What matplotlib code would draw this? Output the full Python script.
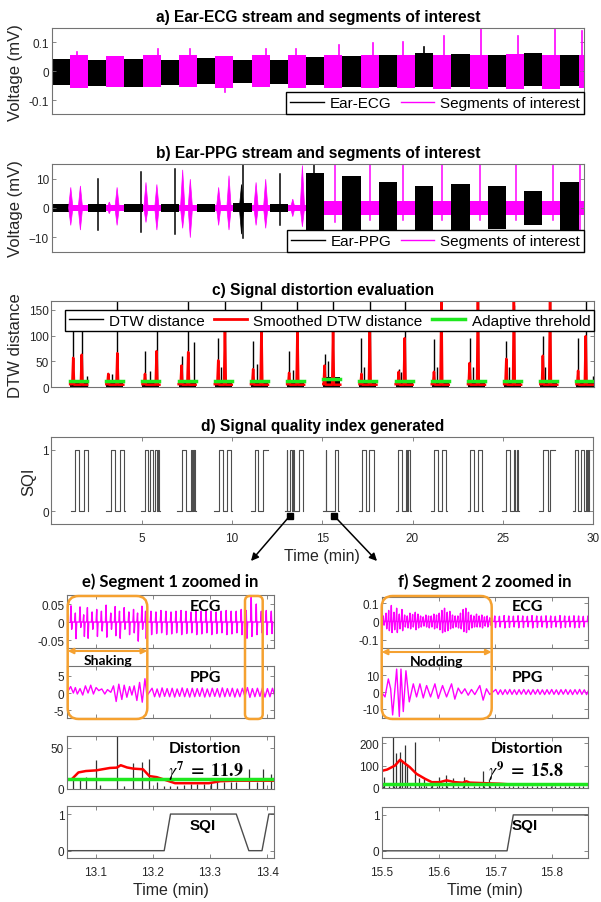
import matplotlib.pyplot as plt
from matplotlib.lines import Line2D
from matplotlib.patches import FancyBboxPatch

plt.rcParams['font.family'] = ['Liberation Sans', 'DejaVu Sans']
plt.rcParams['mathtext.fontset'] = 'stix'

MAG = '#ff00ff'
GREEN = '#1ee81e'
ORANGE = '#f5a130'
AXC = '0.45'
TXT = '0.15'

# ---------------- a) Ear-ECG, one block per minute (odd minutes = segments of interest)
ecg_hi = [0.043, 0.057, 0.040, 0.054, 0.043, 0.057, 0.040, 0.057, 0.046, 0.054,
          0.040, 0.057, 0.040, 0.057, 0.049, 0.057, 0.052, 0.057, 0.057, 0.057,
          0.063, 0.057, 0.060, 0.057, 0.057, 0.060, 0.061, 0.057, 0.057, 0.057]
ecg_lo = [-0.049, -0.057, -0.052, -0.054, -0.054, -0.054, -0.049, -0.054, -0.046, -0.057,
          -0.040, -0.054, -0.046, -0.057, -0.049, -0.057, -0.054, -0.057, -0.054, -0.057,
          -0.054, -0.060, -0.054, -0.060, -0.054, -0.060, -0.052, -0.060, -0.052, -0.057]
ecg_spk_t = [1.37, 5.83, 7.59, 9.55, 11.78, 13.44, 15.82, 17.69, 19.32, 20.49,
             21.6, 23.64, 25.66, 27.72, 29.2, 29.42]
ecg_spk_v = [0.065, 0.075, 0.077, -0.072, 0.075, 0.075, 0.092, 0.098, 0.1, 0.083,
             0.123, 0.146, 0.123, 0.146, 0.138, -0.103]

# ---------------- b) Ear-PPG
ppg_hi = [1.3, 1.0, 1.3, 1.0, 1.3, 1.0, 1.3, 1.0, 1.3, 1.0, 1.5, 1.0, 1.3, 1.0, 12.0,
          2.5, 10.9, 2.5, 8.7, 2.5, 7.5, 2.5, 8.1, 2.5, 7.5, 2.5, 5.8, 2.5, 8.7, 2.5]
ppg_lo = [-1.5, -1.0, -1.5, -1.0, -1.5, -1.0, -1.5, -1.0, -1.5, -1.0, -1.5, -1.0, -1.5, -1.0, -11.5,
          -2.5, -11.0, -2.5, -9.3, -2.5, -8.2, -2.5, -8.8, -2.5, -7.1, -2.5, -6.0, -2.5, -7.6, -2.5]
ppg_burst_t = [1.05, 1.58, 3.17, 3.60, 5.19, 5.79, 7.21, 7.63, 9.19, 9.76, 10.45, 11.25, 11.78, 13.27, 13.80]
ppg_burst_hi = [7, 7.5, 2, 7, 8.7, 8, 13, 9.8, 7, 11, 8, 8.7, 9.8, 3, 14.5]
ppg_burst_lo = [-6, -7.6, -2, -6, -5, -7.6, -7, -10.2, -6, -7.6, -9, -6, -7, -3, -6.5]
ppg_spk_t = [2.53, 4.92, 6.78, 10.55, 12.56, 14.43, 15.6, 17.5, 19.32, 21.5, 23.56, 25.58, 27.6, 29.08]
ppg_spk_hi = [10, 12.2, 13.4, 15, 11.5, 15, 15, 15, 15, 15, 15, 15, 15, 15]
ppg_spk_lo = [-7.6, -8.4, -9.1, -10.4, -6, -15, -5, -4, -4, -4, -4, -4, -4, -15]

# ---------------- c) DTW distance clusters (one per segment of interest)
c_start = [1, 3, 5, 7, 9, 11, 13, 15, 17, 19, 21, 23, 25, 27, 29]
c_p1 = [0.20, 0.14, 0.17, 0.19, 0.22, 0.15, 0.14, 0.10, 0.14, 0.20, 0.15, 0.12, 0.15, 0.17, 0.12]
c_p2 = [0.67, 0.64, 0.81, 0.56, 0.59, 0.61, 0.60, 0.57, 0.60, 0.53, 0.56, 0.58, 0.57, 0.57, 0.54]
c_red1 = [57, 26, 26, 42, 52, 35, 28, 42, 26, 30, 30, 47, 55, 61, 32]
c_red2 = [63, 66, 70, 68, 110, 120, 115, 110, 120, 95, 175, 175, 175, 175, 99]
c_blk1 = [130, 28, 71, 61, 96, 90, 70, 64, 96, 35, 93, 96, 90, 99, 96]
c_blk2 = [115, 175, 120, 175, 175, 175, 175, 175, 175, 175, 175, 175, 160, 175, 175]
c_ext = [0.95, 0.35, 0.45, 0.9, 0.35, 0.35, 0.35, 0.3, 0.3, 0.35, 0.3, 0.3, 0.3, 0.3, 0.95]
c_ext_h = [22, 26, 32, 88, 40, 45, 33, 50, 40, 30, 40, 40, 40, 40, 22]
c_base = [10, 8, 8, 10, 8, 8, 9, 20, 8, 10, 8, 8, 8, 8, 10]
c_thr = [11.6, 12, 12, 12, 12, 12, 12, 16, 12, 12, 12, 12, 12, 12, 12]

# ---------------- d) SQI: [start, toggle times..., end], starting at 0
sqi_groups = [
    [1.06, 1.30, 1.52, 1.80, 2.00, 2.03],
    [3.04, 3.28, 3.50, 3.77, 3.99, 4.05],
    [4.97, 5.20, 5.37, 5.45, 5.64, 5.74, 5.82, 5.90, 5.97, 6.01],
    [6.98, 7.25, 7.44, 7.71, 7.77, 7.82, 7.88, 7.92, 7.95, 7.99],
    [8.99, 9.27, 9.49, 9.73, 9.97, 10.0],
    [11.08, 11.25, 11.46, 11.70, 11.98],
    [12.96, 13.02, 13.05, 13.22, 13.35, 13.39, 13.45, 13.72, 13.93, 13.96],
    [15.04, 15.19, 15.21, 15.72, 15.90, 15.92],
    [17.05, 17.20, 17.42, 17.60, 17.84, 17.88],
    [19.10, 19.21, 19.40, 19.62, 19.71, 19.76, 19.86, 19.91],
    [21.05, 21.18, 21.40, 21.63, 21.85, 21.90],
    [23.06, 23.19, 23.41, 23.65, 23.87, 23.92],
    [24.95, 25.18, 25.39, 25.60, 25.70, 25.77, 25.85, 25.90],
    [27.00, 27.24, 27.50, 27.64, 27.92],
    [28.90, 29.00, 29.18, 29.32, 29.49, 29.60, 29.69, 29.73, 29.77, 29.80],
]
sqi_mark_t = [13.22, 15.64]

# ---------------- e) segment 1 (13.05 - 13.41 min)
ecg_e_t = [13.057, 13.0646, 13.0728, 13.0792, 13.0857, 13.0939, 13.102, 13.1102, 13.1184,
           13.1266, 13.1342, 13.1418, 13.15, 13.1582, 13.1664, 13.1734, 13.181, 13.1874,
           13.1968, 13.2056, 13.2143, 13.2231, 13.2319, 13.2406, 13.2494, 13.2582, 13.267,
           13.2757, 13.2845, 13.2933, 13.302, 13.3108, 13.3196, 13.3284, 13.3371, 13.3459,
           13.3547, 13.3635, 13.3722, 13.381, 13.3898, 13.3985, 13.4073]
ecg_e_up = [.045, .025, .042, .02, .04, .028, .035, .03, .047, .025, .043, .03, .04, .028, .035,
            .025, .044, .03, .03, .028, .032, .03, .028, .03, .032, .03, .028, .03, .03, .032,
            .03, .028, .03, .032, .03, .03, .035, .032, .069, .05, .03, .032, .03]
ecg_e_dn = [-.02, -.046, -.015, -.04, -.045, -.02, -.04, -.025, -.042, -.02, -.038, -.045, -.02,
            -.035, -.03, -.053, -.02, -.046, -.035, -.032, -.03, -.035, -.033, -.03, -.035, -.032,
            -.03, -.035, -.033, -.03, -.035, -.032, -.03, -.035, -.033, -.03, -.035, -.045, -.04,
            -.035, -.03, -.035, -.032]
ppg_e_shake_t = [13.0523, 13.0564, 13.0611, 13.0646, 13.0681, 13.0728, 13.0775, 13.0822, 13.0868,
                 13.0915, 13.0962, 13.1009, 13.1056, 13.1108, 13.1161, 13.1208, 13.1266, 13.1313,
                 13.136, 13.1406, 13.1459, 13.15, 13.1547, 13.1594, 13.1635, 13.1675, 13.1722,
                 13.1769, 13.1816, 13.1863, 13.1898]
ppg_e_shake_v = [0.7, 1.9, 0, 1.6, -0.3, 1.3, -0.6, 2.1, 0, 2.3, -0.3, 1.6, 0.7, 1.2, -0.3, 1.0,
                 0.2, 2.1, -2.5, 2.6, -1.9, 2.3, -1.25, 1.9, -0.6, 2.1, -2.2, 3.1, -2.7, 4.2, -0.8]
ppg_e_pk = [1.4, 1.2, 1.5, 1.3, 1.4, 1.2, 1.5, 1.3, 1.4, 1.3, 1.5, 1.2, 1.4, 1.3, 1.5, 1.3, 1.4,
            1.2, 1.4, 1.6, 1.3, 1.4, 1.5, 1.3, 1.4]
ppg_e_tr = [-1.1, -1.2, -1.0, -1.1, -1.2, -1.0, -1.1, -1.2, -1.1, -1.0, -1.2, -1.1, -1.0, -1.2,
            -1.1, -1.0, -1.2, -1.1, -1.0, -1.3, -1.1, -1.0, -1.2, -1.1, -1.0]
dist_e_t = [13.060, 13.072, 13.083, 13.101, 13.107, 13.137, 13.150, 13.166, 13.181, 13.193,
            13.207, 13.220, 13.231, 13.242, 13.254, 13.266, 13.277, 13.289, 13.301, 13.313,
            13.324, 13.336, 13.346, 13.368, 13.382, 13.393, 13.406]
dist_e_h = [13, 12, 14, 35, 5, 70, 4, 32, 33, 36, 8, 4, 4, 4, 5, 6, 6, 6, 8, 8, 8, 8, 8, 24, 8, 24, 18]
red_e_t = [13.060, 13.070, 13.083, 13.101, 13.125, 13.137, 13.144, 13.155, 13.166, 13.183,
           13.194, 13.207, 13.225, 13.239, 13.260, 13.283, 13.298, 13.318, 13.342, 13.414]
red_e_v = [13, 20, 21.7, 22.5, 25.4, 25.8, 28.7, 26, 24.6, 23.8, 15.6, 14.3, 10.2, 7, 7, 7, 7,
           9.4, 10, 10]
thr_e = 11.9
sqi_e_t = [13.05, 13.22, 13.231, 13.346, 13.368, 13.391, 13.403, 13.415]
sqi_e_v = [0, 0, 1, 1, 0, 0, 1, 1]

# ---------------- f) segment 2 (15.5 - 15.86 min)
ecg_f_t = [15.5024, 15.5071, 15.5118, 15.5165, 15.5212, 15.5259, 15.5306, 15.5353, 15.54,
           15.5447, 15.5494, 15.5541, 15.5588, 15.5635, 15.5682, 15.5729, 15.5776, 15.5823,
           15.587, 15.5917, 15.5964, 15.6011, 15.6058, 15.6105, 15.6152, 15.6199, 15.6246,
           15.6293, 15.634, 15.6387, 15.6434, 15.6481, 15.6528, 15.6576, 15.6623, 15.667,
           15.6717, 15.6764, 15.6811, 15.6858, 15.6905,
           15.6993, 15.7075, 15.7158, 15.724, 15.7322, 15.7404, 15.7487, 15.7569, 15.7651,
           15.7734, 15.7816, 15.7898, 15.7981, 15.8063, 15.8145, 15.8228, 15.831, 15.8392,
           15.8474, 15.8557, 15.8639]
ecg_f_up = [0.03, 0.045, 0.06, 0.087, 0.05, 0.072, 0.04, 0.065, 0.035, 0.03, 0.045, 0.038, 0.05,
            0.04, 0.03, 0.025, 0.035, 0.03, 0.03, 0.04, 0.035, 0.045, 0.06, 0.072, 0.05, 0.055,
            0.035, 0.03, 0.03, 0.045, 0.065, 0.072, 0.05, 0.035, 0.03, 0.04, 0.03, 0.035, 0.025,
            0.03, 0.02,
            0.03, 0.028, 0.032, 0.03, 0.029, 0.031, 0.03, 0.028, 0.032, 0.03, 0.029, 0.031, 0.03,
            0.028, 0.032, 0.03, 0.029, 0.031, 0.03, 0.028, 0.03]
ecg_f_dn = [-0.02, -0.04, -0.05, -0.06, -0.045, -0.06, -0.04, -0.05, -0.03, -0.035, -0.04, -0.03,
            -0.045, -0.035, -0.03, -0.025, -0.03, -0.035, -0.03, -0.04, -0.035, -0.045, -0.061,
            -0.055, -0.05, -0.04, -0.035, -0.03, -0.035, -0.04, -0.055, -0.06, -0.045, -0.035,
            -0.03, -0.03, -0.03, -0.035, -0.025, -0.03, -0.02,
            -0.033, -0.03, -0.035, -0.032, -0.03, -0.034, -0.033, -0.03, -0.035, -0.032, -0.03,
            -0.034, -0.033, -0.03, -0.035, -0.032, -0.03, -0.034, -0.033, -0.03, -0.032]
ppg_f_nod_t = [15.5012, 15.5053, 15.5112, 15.5153, 15.5188, 15.5259, 15.5306, 15.5335, 15.5376,
               15.5423, 15.5482, 15.5553, 15.5611, 15.567, 15.5729, 15.5788, 15.5858, 15.5935,
               15.5994, 15.607, 15.6141, 15.6229, 15.6287, 15.6346, 15.6405, 15.6464, 15.6523,
               15.6581, 15.664, 15.6728, 15.6787, 15.6846, 15.6905]
ppg_f_nod_v = [-1.0, -2.9, 7.7, 1.9, -13.5, 13.5, -14.4, 13.5, -11.5, 12.5, -5.8, 4.8, -2.9, 4.8,
               -3.5, 3.8, -2.9, 4.8, -3.8, 3.8, -2.9, 4.8, -4.2, 2.3, -1.0, 1.9, -1.9, 1.5, -1.5,
               3.8, -4.8, 1.9, -1.5]
ppg_f_pk = [1.5, 1.3, 1.4, 1.5, 1.3, 1.4, 1.5, 1.3, 1.4, 1.5, 1.3, 1.4, 1.5, 1.3, 1.4, 1.5, 1.3,
            1.4, 1.5, 1.3, 1.4]
ppg_f_tr = [-1.4, -1.5, -1.3, -1.4, -1.5, -1.3, -1.4, -1.5, -1.3, -1.4, -1.5, -1.3, -1.4, -1.5,
            -1.3, -1.4, -1.5, -1.3, -1.4, -1.5, -1.3]
dist_f_t = [15.504, 15.519, 15.525, 15.532, 15.535, 15.541, 15.545, 15.558, 15.566, 15.574,
            15.588, 15.601, 15.613, 15.626, 15.645, 15.678, 15.689]
dist_f_h = [51, 230, 156, 162, 122, 191, 107, 206, 44, 41, 20, 51, 59, 44, 51, 75, 38]
dist_f_base = 9
red_f_t = [15.496, 15.509, 15.523, 15.532, 15.539, 15.549, 15.561, 15.576, 15.588, 15.602,
           15.614, 15.629, 15.643, 15.649, 15.655, 15.676, 15.708, 15.726]
red_f_v = [74, 82, 100, 126, 112, 93, 63, 41, 26, 26, 34, 26, 23.5, 30, 24, 22, 19, 16]
thr_f = 15.8
sqi_f_t = [15.5, 15.721, 15.732, 15.87]
sqi_f_v = [0, 0, 1, 1]

# ---------------------------------------------------------------- layout helpers
W, H = 601.0, 903.0
fig = plt.figure(figsize=(6.01, 9.03), dpi=100)


def px_axes(l, t, r, b):
    return fig.add_axes([l / W, 1 - b / H, (r - l) / W, (b - t) / H])


def style(ax, size=8.5):
    for s in ax.spines.values():
        s.set_color(AXC)
        s.set_linewidth(0.8)
    ax.tick_params(direction='in', length=3, width=0.6, color=AXC, labelsize=size,
                   labelcolor=TXT, top=True, right=True, pad=2)
    ax.tick_params(axis='x', pad=6)


def col(t):
    return MAG if int(t) % 2 else 'k'


def beat_trace(ts, ups, dns, w):
    x, y = [], []
    for t, u, d in zip(ts, ups, dns):
        x += [t - w, t, t + w, t + 2 * w]
        y += [0, u, d, 0]
    return x, y


def ppg_trace(ts, pks, trs, lag):
    x, y = [], []
    for t, p, q in zip(ts, pks, trs):
        x += [t + lag, t + 3.2 * lag]
        y += [p, q]
    return x, y


title_kw = dict(fontsize=11.2, fontweight='bold', color='k', pad=5)
leg_kw = dict(fontsize=11, frameon=True, fancybox=False, edgecolor='k', framealpha=1,
              borderaxespad=0, handlelength=2.2, columnspacing=0.6, handletextpad=0.4,
              borderpad=0.25)

# ---------------------------------------------------------------- a)
ax = px_axes(51.7, 29.3, 584, 115)
for m in range(len(ecg_hi)):
    ax.fill_between([m, m + 1], ecg_lo[m], ecg_hi[m], color=col(m), lw=0)
for t, v in zip(ecg_spk_t, ecg_spk_v):
    ax.plot([t, t], [0, v], color=col(t), lw=1.2)
ax.set_xlim(0, 29.3)
ax.set_ylim(-0.148, 0.148)
ax.set_xticks([])
ax.set_yticks([-0.1, 0, 0.1])
ax.set_yticklabels(['-0.1', '0', '0.1'])
style(ax)
ax.set_ylabel('Voltage (mV)', fontsize=12, color=TXT)
ax.set_title('a) Ear-ECG stream and segments of interest', **title_kw)
ax.legend([Line2D([], [], color='k', lw=1), Line2D([], [], color=MAG, lw=1)],
          ['Ear-ECG', 'Segments of interest'], ncol=2, loc='lower right', **leg_kw)

# ---------------------------------------------------------------- b)
ax = px_axes(51.7, 165, 584, 252.7)
for m in range(len(ppg_hi)):
    ax.fill_between([m, m + 1], ppg_lo[m], ppg_hi[m], color=col(m), lw=0)
for t, hi, lo in zip(ppg_burst_t, ppg_burst_hi, ppg_burst_lo):
    ax.fill([t - 0.12, t, t + 0.12, t], [0, hi, 0, lo], color=col(t), lw=0.5)
for t, hi, lo in zip(ppg_spk_t, ppg_spk_hi, ppg_spk_lo):
    ax.plot([t, t], [lo, hi], color=col(t), lw=1.1)
ax.set_xlim(0, 29.3)
ax.set_ylim(-15, 15)
ax.set_xticks([])
ax.set_yticks([-10, 0, 10])
style(ax)
ax.set_ylabel('Voltage (mV)', fontsize=12, color=TXT)
ax.set_title('b) Ear-PPG stream and segments of interest', **title_kw)
ax.legend([Line2D([], [], color='k', lw=1), Line2D([], [], color=MAG, lw=1)],
          ['Ear-PPG', 'Segments of interest'], ncol=2, loc='lower right', **leg_kw)

# ---------------------------------------------------------------- c)
ax = px_axes(51.5, 302, 594, 388.3)
for k, s in enumerate(c_start):
    ax.fill_between([s + 0.03, s + 0.97], 0, c_base[k], color='k', lw=0)
    ax.vlines([s + c_p1[k], s + c_p2[k], s + c_ext[k]], 0,
              [c_blk1[k], c_blk2[k], c_ext_h[k]], color='k', lw=1)
    a1, a2 = s + c_p1[k], s + c_p2[k]
    ax.plot([s + 0.03, a1 - 0.05, a1, a1 + 0.05, a2 - 0.05, a2, a2 + 0.05, s + 0.97],
            [6, 6, c_red1[k], 5, 5, c_red2[k], 5, 5], color='#ff0000', lw=1.8)
    ax.plot([s + 0.03, s + 0.97], [c_thr[k], c_thr[k]], color=GREEN, lw=2.5)
ax.set_xlim(0, 30)
ax.set_ylim(0, 167)
ax.set_xticks([])
ax.set_yticks([0, 50, 100, 150])
style(ax)
ax.set_ylabel('DTW distance', fontsize=12, color=TXT)
ax.set_title('c) Signal distortion evaluation', **title_kw)
lg = ax.legend([Line2D([], [], color='k', lw=1), Line2D([], [], color='#ff0000', lw=2),
                Line2D([], [], color=GREEN, lw=2.5)],
               ['DTW distance', 'Smoothed DTW distance', 'Adaptive threhold'],
               ncol=3, loc='upper right', bbox_to_anchor=(1.0, 1 - 8.7 / 86.3), **leg_kw)
lg.set_zorder(5)

# ---------------------------------------------------------------- d)
axd = px_axes(51.5, 438, 593, 524.5)
for g in sqi_groups:
    xs, ys, lvl = [g[0]], [0], 0
    for t in g[1:-1]:
        xs += [t, t]
        ys += [lvl, 1 - lvl]
        lvl = 1 - lvl
    xs.append(g[-1])
    ys.append(lvl)
    axd.plot(xs, ys, color='0.3', lw=0.8)
axd.plot(sqi_mark_t, [-0.07, -0.07], 's', color='k', ms=4.5, clip_on=False, zorder=5)
axd.set_xlim(0, 30)
axd.set_ylim(-0.2, 1.21)
axd.set_xticks([5, 10, 15, 20, 25, 30])
axd.set_yticks([0, 1])
style(axd)
axd.set_ylabel('SQI', fontsize=12, color=TXT)
axd.set_xlabel('Time (min)', fontsize=11.5, color=TXT, labelpad=3)
axd.set_title('d) Signal quality index generated', **title_kw)
for t, tgt in zip(sqi_mark_t, [(251, H - 562), (377, H - 562)]):
    axd.annotate('', xy=tgt, xycoords='figure pixels', xytext=(t, -0.07), textcoords='data',
                 arrowprops=dict(arrowstyle='-|>', color='k', lw=1.1, mutation_scale=11,
                                 shrinkA=0, shrinkB=0))

# ---------------------------------------------------------------- e) / f)
def zax(l, t, r, b, xlim, ylim, yt, ytl, xt, xlab=False):
    a = px_axes(l, t, r, b)
    a.set_xlim(xlim)
    a.set_ylim(ylim)
    a.set_xticks(xt)
    a.set_yticks(yt)
    a.set_yticklabels(ytl)
    style(a, 8.5)
    if xlab:
        a.set_xlabel('Time (min)', fontsize=11.5, color=TXT, labelpad=3)
    else:
        a.tick_params(labelbottom=False)
    return a


xe, xf = (13.05, 13.412), (15.5, 15.864)
te, tf = [13.1, 13.2, 13.3, 13.4], [15.5, 15.6, 15.7, 15.8]

a = zax(67, 596, 274, 649, xe, (-0.072, 0.075), [-0.05, 0, 0.05], ['-0.05', '0', '0.05'], te)
a.plot(*beat_trace(ecg_e_t, ecg_e_up, ecg_e_dn, 0.0012), color=MAG, lw=1)
a = zax(67, 667, 274, 719, xe, (-7.35, 7.94), [-5, 0, 5], ['-5', '0', '5'], te)
px, py = ppg_trace(ecg_e_t[18:], ppg_e_pk, ppg_e_tr, 0.002)
a.plot(ppg_e_shake_t + px, ppg_e_shake_v + py, color=MAG, lw=1)
a = zax(67, 737, 274, 790, xe, (0, 64), [0, 50], ['0', '50'], te)
a.vlines(dist_e_t, 0, dist_e_h, color='0.2', lw=0.9)
a.plot(red_e_t, red_e_v, color='#ff0000', lw=1.8)
a.axhline(thr_e, color=GREEN, lw=2.5)
a = zax(67, 807, 274, 859, xe, (-0.2, 1.22), [0, 1], ['0', '1'], te, xlab=True)
a.plot(sqi_e_t, sqi_e_v, color='0.3', lw=1)

a = zax(382, 598, 588, 649, xf, (-0.144, 0.133), [-0.1, 0, 0.1], ['-0.1', '0', '0.1'], tf)
a.plot(*beat_trace(ecg_f_t, ecg_f_up, ecg_f_dn, 0.0012), color=MAG, lw=1)
a = zax(382, 667, 588, 719, xf, (-15.3, 15.3), [-10, 0, 10], ['-10', '0', '10'], tf)
px, py = ppg_trace(ecg_f_t[41:], ppg_f_pk, ppg_f_tr, 0.0018)
a.plot(ppg_f_nod_t + px, ppg_f_nod_v + py, color=MAG, lw=1)
a = zax(382, 738, 588, 789, xf, (0, 227), [0, 100, 200], ['0', '100', '200'], tf)
a.vlines(ecg_f_t[:41:2] + ecg_f_t[41:], 0, dist_f_base, color='0.2', lw=0.9)
a.vlines(dist_f_t, 0, dist_f_h, color='0.2', lw=0.9)
a.plot(red_f_t, red_f_v, color='#ff0000', lw=1.8)
a.axhline(thr_f, color=GREEN, lw=2.5)
a = zax(382, 808, 588, 859, xf, (-0.2, 1.22), [0, 1], ['0', '1'], tf, xlab=True)
a.plot(sqi_f_t, sqi_f_v, color='0.3', lw=1)

# ---------------------------------------------------------------- annotations (pixel overlay)
ov = fig.add_axes([0, 0, 1, 1])
ov.set_xlim(0, W)
ov.set_ylim(H, 0)
ov.axis('off')
cal = ['Lato', 'DejaVu Sans']
ov.text(170, 582, 'e) Segment 1 zoomed in', family=cal, fontweight='bold', fontsize=12,
        ha='center', va='center')
ov.text(485, 582, 'f) Segment 2 zoomed in', family=cal, fontweight='bold', fontsize=12,
        ha='center', va='center')
for x0, name in [(205, 'e'), (527, 'f')]:
    ov.text(x0, 607, 'ECG', family=cal, fontweight='bold', fontsize=11.5, ha='center', va='center')
    ov.text(x0, 678, 'PPG', family=cal, fontweight='bold', fontsize=11.5, ha='center', va='center')
    ov.text(x0, 749, 'Distortion', family=cal, fontweight='bold', fontsize=11.5,
            ha='center', va='center')
    ov.text(x0 - 2, 826, 'SQI', fontweight='bold', fontsize=11, ha='center', va='center')
ov.text(206, 771, r'$\gamma^{\mathbf{7}}\ \mathbf{=\ 11.9}$', fontsize=13, ha='center', va='center')
ov.text(526, 771, r'$\gamma^{\mathbf{9}}\ \mathbf{=\ 15.8}$', fontsize=13, ha='center', va='center')

for x0, x1, rs in [(67.7, 147.3, 11), (245, 262.7, 5), (381.7, 491.7, 11)]:
    ov.add_patch(FancyBboxPatch((x0, 597), x1 - x0, 123, boxstyle='round,pad=0,rounding_size=%d' % rs,
                                fill=False, ec=ORANGE, lw=1.8, zorder=6))
for x0, x1, y0, label in [(67.7, 147.3, 652, 'Shaking'), (381.7, 491.7, 653, 'Nodding')]:
    ov.annotate('', xy=(x0, y0), xytext=(x1, y0),
                arrowprops=dict(arrowstyle='<|-|>', color=ORANGE, lw=1.5, mutation_scale=8,
                                shrinkA=0, shrinkB=0))
    ov.text((x0 + x1) / 2, y0 + 9.5, label, family=cal, fontweight='bold', fontsize=10,
            ha='center', va='center')

fig.savefig('out.png', dpi=100)
